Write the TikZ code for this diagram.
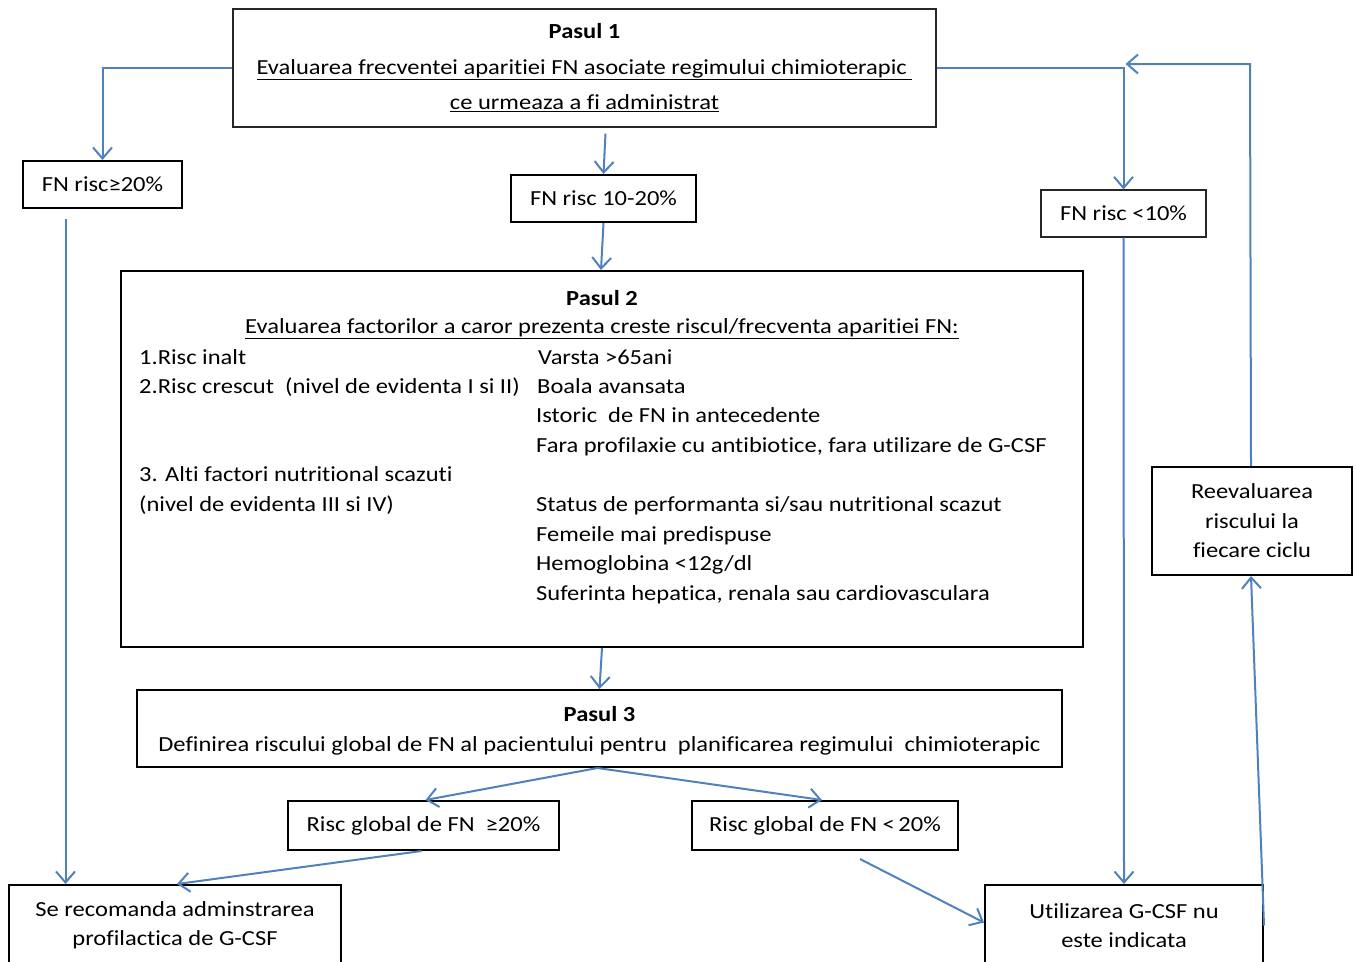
\documentclass[tikz,border=0pt]{standalone}
\usepackage{fontspec}
\setmainfont{Carlito}[FakeStretch=1.14, Ligatures=NoCommon]
\usetikzlibrary{arrows.meta}
\definecolor{flowblue}{RGB}{79,129,189}
\tikzset{
  box/.style={draw, line width=2pt, inner sep=0pt, font=\fontsize{21.5}{29.5}\selectfont, align=center},
  thinbox/.style={draw=black!85, line width=1.2pt, inner sep=0pt, font=\fontsize{21.5}{29.5}\selectfont, align=center},
  txt/.style={inner sep=0pt, font=\fontsize{21.5}{29.5}\selectfont},
  link/.style={draw=flowblue, line width=2pt, -{Straight Barb[length=11pt,width=19pt]}},
}
\begin{document}
\begin{tikzpicture}[x=1pt, y=-1pt]
\useasboundingbox (0,0) rectangle (1356,961);
\clip (0,0) rectangle (1356,961);
% step 1
\node[thinbox, minimum width=703pt, minimum height=118pt, font=\fontsize{21.5}{35.5}\selectfont] (step1) at (584.5,68)
  {\textbf{Pasul 1}\\ \underline{Evaluarea frecventei\ aparitiei FN asociate regimului chimioterapic\ }\\ \underline{ce urmeaza a fi administrat}};
\node[box, minimum width=159pt, minimum height=47pt] (risk20) at (102.5,184.5) {FN risc≥20\%};
\node[box, minimum width=185pt, minimum height=47pt] (risk1020) at (603.5,198.5) {FN risc 10-20\%};
\node[thinbox, minimum width=165pt, minimum height=47pt] (risklow) at (1123.5,213.5) {FN risc <10\%};

% step 2
\node[box, minimum width=962pt, minimum height=376pt] (step2) at (602,459) {};
\node[txt] (title2) at (602,298) {\textbf{Pasul 2}};
\node[txt] (sub2) at (602,329) {\underline{Evaluarea factorilor a caror prezenta creste riscul/frecventa aparitiei FN:}};
\node[txt, anchor=base west] (left1) at (139,364) {1.Risc inalt};
\node[txt, anchor=base west] (left2) at (139,393) {2.Risc crescut \ (nivel de evidenta I si II)};
\node[txt, anchor=base west] (left3) at (139,481) {3. Alti factori nutritional scazuti};
\node[txt, anchor=base west] (left4) at (139,511) {(nivel de evidenta III si IV)};
\node[txt, anchor=base west] (right1) at (538,364) {Varsta >65ani};
\node[txt, anchor=base west] (right2) at (537,393) {Boala avansata};
\node[txt, anchor=base west] (right3) at (536,422) {Istoric \ de FN in antecedente};
\node[txt, anchor=base west] (right4) at (536,452) {Fara profilaxie cu antibiotice, fara utilizare de G-CSF};
\node[txt, anchor=base west] (right5) at (536,511) {Status de performanta si/sau nutritional scazut};
\node[txt, anchor=base west] (right6) at (536,541) {Femeile mai predispuse};
\node[txt, anchor=base west] (right7) at (536,570) {Hemoglobina <12g/dl};
\node[txt, anchor=base west] (right8) at (536,600) {Suferinta hepatica, renala sau cardiovasculara};

\node[box, minimum width=200pt, minimum height=108pt] (reeval) at (1252,521) {Reevaluarea\\ riscului la\\ fiecare ciclu};

% step 3
\node[box, minimum width=925pt, minimum height=77pt] (step3) at (599.5,728.5) {};
\node[txt, align=center, font=\fontsize{21.5}{30}\selectfont] (text3) at (599.5,731)
  {\textbf{Pasul 3}\\ Definirea riscului global de FN al pacientului pentru \ planificarea regimului \ chimioterapic};
\node[box, minimum width=271pt, minimum height=49pt] (glob20) at (423.5,825.5) {Risc global de FN \ ≥20\%};
\node[box, minimum width=266pt, minimum height=49pt] (globlow) at (825,825.5) {Risc global de FN <\,20\%};

\node[box, minimum width=332pt, minimum height=81pt] (recom) at (175,925.5) {Se recomanda adminstrarea\\ profilactica de G-CSF};
\node[box, minimum width=278pt, minimum height=81pt] (nogcsf) at (1124,925.5) {Utilizarea G-CSF nu\\ este indicata};

% connectors
\coordinate (down20) at ([xshift=-37pt,yshift=-10pt]risk20.south);
\coordinate (back) at (1250,64);
\draw[link] (step1.west) -| (risk20.north);
\draw[link] ([xshift=21pt,yshift=-6pt]step1.south) -- (risk1020.north);
\draw[link] (step1.east) -| (risklow.north);
\draw[link] (risk1020.south) -- ([xshift=-1pt]step2.north);
\draw[link] (down20) -- (down20 |- recom.north);
\draw[link] (risklow.south) -- (nogcsf.north);
\draw[link] (step2.south) -- (step3.north);
\draw[link] ([xshift=-2pt]step3.south) -- ([xshift=2pt]glob20.north);
\draw[link] ([xshift=-2pt]step3.south) -- ([xshift=-3pt]globlow.north);
\draw[link] ([xshift=-2pt]glob20.south) -- ([xshift=2pt]recom.north);
\draw[link] ([xshift=35pt,yshift=-8pt]globlow.south) -- ([yshift=3pt]nogcsf.west);
\draw[link] (nogcsf.east) -- ([xshift=-1pt]reeval.south);
\draw[link] ([xshift=-1pt]reeval.north) -- (back) -- ([xshift=2pt]back -| risklow.north);
\end{tikzpicture}
\end{document}
